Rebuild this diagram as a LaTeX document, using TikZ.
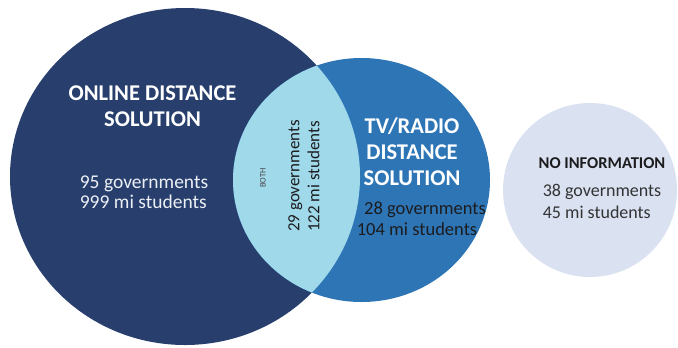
\documentclass[tikz,border=0pt]{standalone}
\usepackage{fontspec}
\setmainfont{Carlito}
\definecolor{navy}{RGB}{40,63,110}
\definecolor{midblue}{RGB}{46,117,182}
\definecolor{lensblue}{RGB}{160,217,234}
\definecolor{paleblue}{RGB}{218,225,240}
\definecolor{softwhite}{RGB}{236,239,244}
\definecolor{inkdark}{RGB}{28,28,30}
\tikzset{
  title/.style={font=\bfseries\fontsize{22.5bp}{26bp}\selectfont, text=white, align=center, inner sep=0pt},
  figs/.style={font=\fontsize{19.5bp}{20bp}\selectfont, inner sep=0pt},
}
\begin{document}
\begin{tikzpicture}[x=1bp,y=-1bp]
\useasboundingbox (0,0) rectangle (678,347);
% circles
\fill[navy] (185,176.5) ellipse [x radius=175, y radius=168.5];
\fill[midblue] (361.5,180) ellipse [x radius=128.5, y radius=122];
\begin{scope}
  \clip (185,176.5) ellipse [x radius=175, y radius=168.5];
  \fill[lensblue] (361.5,180) ellipse [x radius=128.5, y radius=122];
\end{scope}
\fill[paleblue] (590,190) ellipse [x radius=87, y radius=87];
% texts
\node[title] (online) at (152.5,106) {ONLINE DISTANCE\\SOLUTION};
\node[figs, text=softwhite, align=left] (onlinefig) at (144,192) {95 governments\\999 mi students};
\node[font=\fontsize{8.5bp}{9bp}\selectfont, text=inkdark!80, rotate=90, inner sep=0pt] (both) at (263,178) {BOTH};
\node[font=\fontsize{17bp}{20bp}\selectfont, text=inkdark, rotate=90, align=left, inner sep=0pt] (bothfig) at (304,176) {29 governments\\122 mi students};
\node[title] (tv) at (412,152) {TV/RADIO\\DISTANCE\\SOLUTION};
\node[font=\fontsize{18.5bp}{19bp}\selectfont, text=inkdark, inner sep=0pt] (tvfig1) at (425,210) {28 governments};
\node[font=\fontsize{18.5bp}{19bp}\selectfont, text=inkdark, inner sep=0pt] (tvfig2) at (417,229) {104 mi students};
\node[font=\bfseries\fontsize{16.5bp}{19bp}\selectfont, text=inkdark, inner sep=0pt] (noinfo) at (602,163) {NO INFORMATION};
\node[font=\fontsize{18bp}{22bp}\selectfont, text=inkdark!90, align=left, inner sep=0pt] (noinfofig) at (602,201) {38 governments\\45 mi students};
\end{tikzpicture}
\end{document}
